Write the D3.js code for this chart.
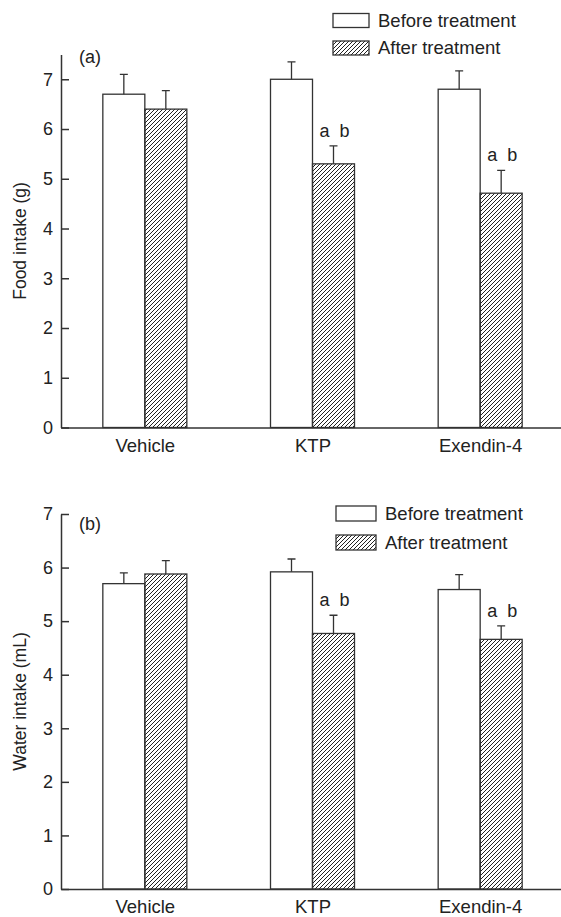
<!DOCTYPE html>
<html>
<head>
<meta charset="utf-8">
<script src="https://cdn.jsdelivr.net/npm/d3@7"></script>
<style>
  body { margin: 0; background: #fff; }
  text { font-family: "Liberation Sans", Arial, sans-serif; fill: #222; }
</style>
</head>
<body>
<div id="chart"></div>
<script>
const groups = ["Vehicle", "KTP", "Exendin-4"];
const series = ["Before treatment", "After treatment"];
const yTicks = [0, 1, 2, 3, 4, 5, 6, 7];

// (a) food intake, g
const foodBefore = [6.7, 7.0, 6.8];
const foodBeforeErr = [0.4, 0.35, 0.37];
const foodAfter = [6.4, 5.3, 4.71];
const foodAfterErr = [0.37, 0.36, 0.46];

// (b) water intake, mL
const waterBefore = [5.7, 5.92, 5.59];
const waterBeforeErr = [0.2, 0.24, 0.28];
const waterAfter = [5.88, 4.77, 4.66];
const waterAfterErr = [0.25, 0.34, 0.25];

const sigMarks = ["", "a  b", "a  b"];

var width = 561;
var height = 917;
const svg = d3.select("#chart")
    .append("svg")
    .attr("width", width)
    .attr("height", height);

// hatch fill for "after" bars
svg.append("defs").append("pattern")
    .attr("id", "hatch")
    .attr("patternUnits", "userSpaceOnUse")
    .attr("width", 4)
    .attr("height", 4)
    .append("path")
    .attr("d", "M-1,1 l2,-2 M0,4 l4,-4 M3,5 l2,-2")
    .attr("stroke", "#222")
    .attr("stroke-width", 1);

const x = d3.scalePoint().domain(groups).range([61, 564]).padding(0.5);
const x1 = d3.scaleBand().domain(series).range([-42, 42]);

function drawPanel(p) {
    const y = d3.scaleLinear().domain([0, p.yMax]).range([p.y0, p.yTop]);
    const g = svg.append("g");

    const rows = [];
    groups.forEach(function (k, i) {
        rows.push({ group: k, s: series[0], v: p.before[i], e: p.beforeErr[i], sig: "" });
        rows.push({ group: k, s: series[1], v: p.after[i], e: p.afterErr[i], sig: sigMarks[i] });
    });

    g.selectAll(".bar")
        .data(rows)
        .enter().append("rect")
        .attr("x", d => x(d.group) + x1(d.s))
        .attr("width", x1.bandwidth())
        .attr("y", d => y(d.v))
        .attr("height", d => p.y0 - y(d.v))
        .attr("fill", d => d.s === series[0] ? "#fff" : "url(#hatch)")
        .attr("stroke", "#333")
        .attr("stroke-width", 1.3);

    const cx = d => x(d.group) + x1(d.s) + x1.bandwidth() / 2;

    g.selectAll(".err")
        .data(rows)
        .enter().append("path")
        .attr("fill", "none")
        .attr("stroke", "#333")
        .attr("stroke-width", 1.3)
        .attr("d", d => "M" + cx(d) + "," + y(d.v) + "V" + y(d.v + d.e)
            + "M" + (cx(d) - 4) + "," + y(d.v + d.e) + "H" + (cx(d) + 4));

    g.selectAll(".sig")
        .data(rows.filter(d => d.sig))
        .enter().append("text")
        .attr("x", d => cx(d) + 1)
        .attr("y", d => y(d.v + d.e) - 9)
        .attr("text-anchor", "middle")
        .attr("font-size", 18)
        .style("white-space", "pre")
        .text(d => d.sig);

    // axes
    const yAxis = g.append("g")
        .attr("transform", "translate(61,0)")
        .call(d3.axisLeft(y).tickValues(yTicks).tickFormat(d3.format("d"))
            .tickSizeInner(-8).tickSizeOuter(0).tickPadding(8));
    yAxis.selectAll("text").attr("font-size", 18).attr("fill", "#222");

    const xAxis = g.append("g")
        .attr("transform", "translate(0," + p.y0 + ")")
        .call(d3.axisBottom(x).tickSize(0).tickPadding(p.labelPad));
    xAxis.selectAll("text").attr("font-size", 18.5).attr("fill", "#222");

    svg.selectAll(".domain, .tick line").attr("stroke", "#333").attr("stroke-width", 1.5);

    g.append("text")
        .attr("transform", "translate(26," + (p.y0 + p.yTop) / 2 + ") rotate(-90)")
        .attr("text-anchor", "middle")
        .attr("font-size", 17.5)
        .text(p.yLabel);

    g.append("text")
        .attr("x", 79)
        .attr("y", p.tagY)
        .attr("font-size", 18)
        .text(p.tag);

    // legend
    const leg = g.selectAll(".leg")
        .data(series)
        .enter().append("g")
        .attr("transform", (d, i) => "translate(" + p.legX + "," + (p.legY + i * p.legStep) + ")");
    leg.append("rect")
        .attr("width", p.boxW)
        .attr("height", p.boxH)
        .attr("fill", (d, i) => i === 0 ? "#fff" : "url(#hatch)")
        .attr("stroke", "#333")
        .attr("stroke-width", 1.3);
    leg.append("text")
        .attr("x", p.boxW + 9)
        .attr("y", p.boxH - 1)
        .attr("font-size", 18.5)
        .text(d => d);
}

drawPanel({
    y0: 427.5, yTop: 54.4, yMax: 7.5,
    before: foodBefore, beforeErr: foodBeforeErr,
    after: foodAfter, afterErr: foodAfterErr,
    yLabel: "Food intake (g)", tag: "(a)", tagY: 63, labelPad: 11,
    legX: 333, legY: 13.5, legStep: 27.5, boxW: 36, boxH: 14
});

drawPanel({
    y0: 889, yTop: 514, yMax: 7,
    before: waterBefore, beforeErr: waterBeforeErr,
    after: waterAfter, afterErr: waterAfterErr,
    yLabel: "Water intake (mL)", tag: "(b)", tagY: 530, labelPad: 11,
    legX: 336, legY: 506, legStep: 29, boxW: 40, boxH: 15
});
</script>
</body>
</html>
